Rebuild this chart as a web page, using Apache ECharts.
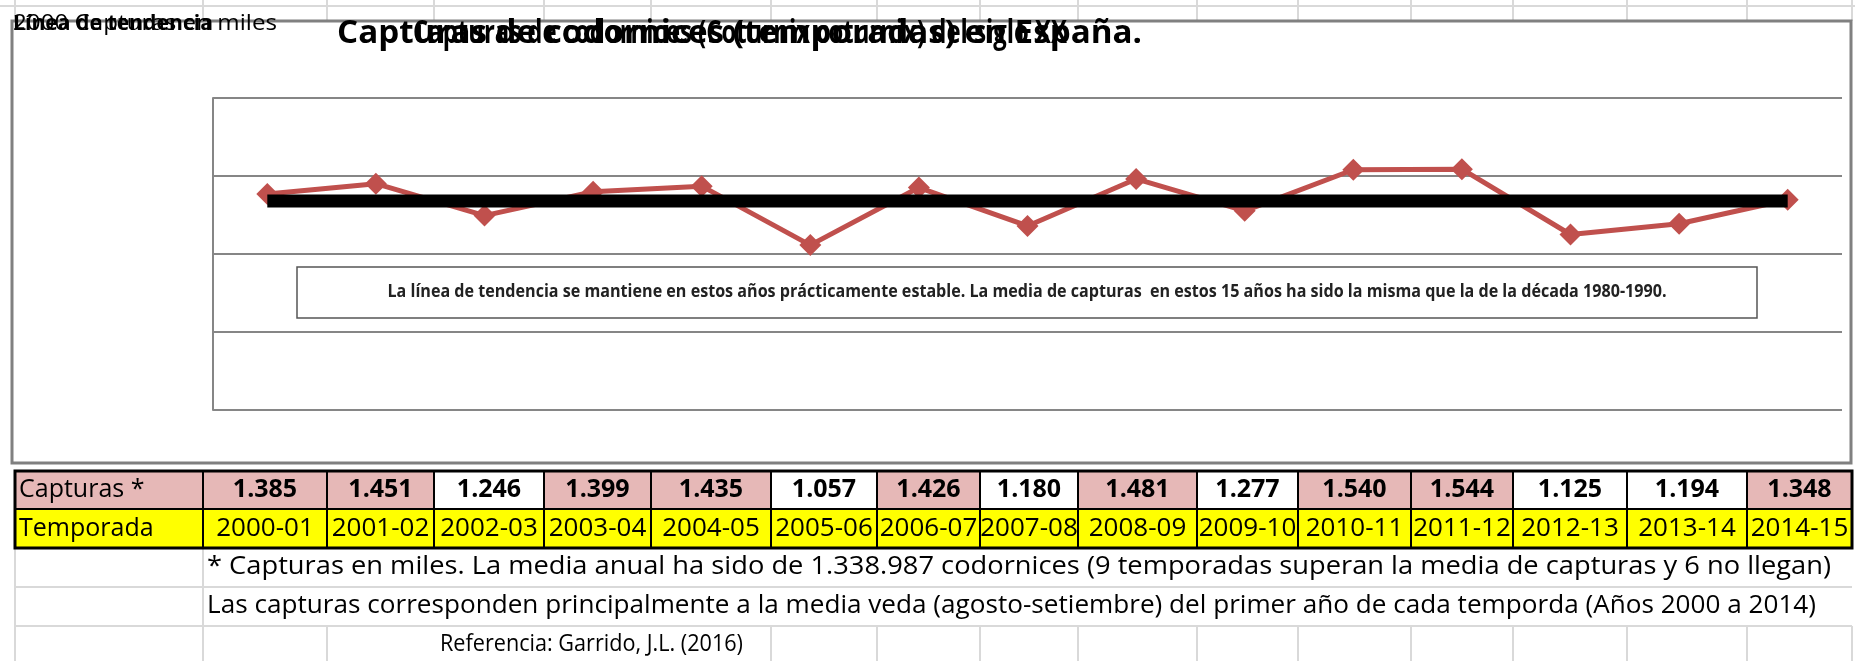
<!DOCTYPE html>
<html>
<head>
<meta charset="utf-8">
<script src="https://cdn.jsdelivr.net/npm/echarts@6/dist/echarts.min.js"></script>
<style>
html, body { margin: 0; padding: 0; background: #fff; }
#chart { width: 1855px; height: 661px; }
</style>
</head>
<body>
<div id="chart"></div>
<script>
// datos: capturas (miles) por temporada
var temporadas = ['2000-01', '2001-02', '2002-03', '2003-04', '2004-05', '2005-06', '2006-07', '2007-08',
	'2008-09', '2009-10', '2010-11', '2011-12', '2012-13', '2013-14', '2014-15'];
var capturas = [1.385, 1.451, 1.246, 1.399, 1.435, 1.057, 1.426, 1.180, 1.481, 1.277, 1.540, 1.544, 1.125, 1.194, 1.348];
var tendencia = [[0, 1.34], [14, 1.34]];
var mediaAnual = 1.338987;

var titulo = 'Capturas de codornices (temporadas) en España.';
var titulo2 = 'Capturas de codornices (Coturnix coturnix) del siglo XX';
var nota = 'La línea de tendencia se mantiene en estos años prácticamente estable. La media de capturas  en estos 15 años ha sido la misma que la de la década 1980-1990.';
var pie1 = '* Capturas en miles. La media anual ha sido de 1.338.987 codornices (9 temporadas superan la media de capturas y 6 no llegan)';
var pie2 = 'Las capturas corresponden principalmente a la media veda (agosto-setiembre) del primer año de cada temporda (Años 2000 a 2014)';
var pie3 = 'Referencia: Garrido, J.L. (2016)';

// columnas de la hoja
var cols = [15, 203, 327, 434, 544, 651, 771, 877, 980, 1078, 1197, 1298, 1411, 1513, 1627, 1747, 1852];
var fila = [471, 509, 548];

var FONT = '"Open Sans", "Noto Sans", sans-serif';
var g = [];
var ctx = document.createElement('canvas').getContext('2d');

function linea(x1, y1, x2, y2, color, w) {
	g.push({ type: 'line', shape: { x1: x1, y1: y1, x2: x2, y2: y2 }, style: { stroke: color, lineWidth: w }, z: 1 });
}
// texto; si se da ancho, se estrecha/ensancha para ocupar ese ancho (como Calibri en la hoja)
function texto(t, x, y, size, weight, align, ancho, color) {
	var font = (weight || 'normal') + ' ' + size + 'px ' + FONT;
	var sx = 1;
	if (ancho) {
		ctx.font = font;
		sx = ancho / ctx.measureText(t).width;
	}
	g.push({
		type: 'text', z: 10, x: x, y: y, scaleX: sx,
		style: {
			text: t, x: 0, y: 0, fill: color || '#000', font: font,
			textAlign: align || 'left', textVerticalAlign: 'middle', verticalAlign: 'middle'
		}
	});
}

// rejilla clara de la hoja
var gris = '#d9d9d9';
linea(0, 6, 1855, 6, gris, 2);
cols.forEach(function (x) { linea(x, 0, x, 21, gris, 2); });
linea(15, 587, 1852, 587, gris, 2);
linea(15, 626, 1852, 626, gris, 2);
linea(15, 548, 15, 661, gris, 2);
linea(203, 548, 203, 661, gris, 2);
[327, 771, 877, 980, 1078, 1197, 1298, 1411, 1513, 1627, 1747, 1852].forEach(function (x) { linea(x, 626, x, 661, gris, 2); });

// marco del grafico
g.push({ type: 'rect', shape: { x: 12, y: 21, width: 1839, height: 442 }, style: { fill: 'none', stroke: '#808080', lineWidth: 3 }, z: 2 });

// textos superpuestos (como en la hoja)
texto('2000 Capturas en miles', 13, 24, 22, 'normal', 'left', 264);
texto('Línea de tendencia', 13, 24, 22, 'bold', 'left', 200);
texto(titulo, 337, 34, 32, 'bold', 'left', 805);
texto(titulo2, 413, 34, 32, 'bold', 'left', 654);

// cuadro de nota
g.push({ type: 'rect', shape: { x: 297, y: 267, width: 1460, height: 51 }, style: { fill: '#fff', stroke: '#555', lineWidth: 1.5 }, z: 5 });
texto(nota, 1027, 292, 18, 'bold', 'center', 1279, '#222');

// tabla
for (var i = 0; i < 16; i++) {
	var x0 = cols[i], x1 = cols[i + 1];
	var rosa = i === 0 || capturas[i - 1] > mediaAnual;
	g.push({ type: 'rect', shape: { x: x0, y: fila[0], width: x1 - x0, height: fila[1] - fila[0] },
		style: { fill: rosa ? '#E6B8B7' : '#fff', stroke: '#000', lineWidth: 2 }, z: 6 });
	g.push({ type: 'rect', shape: { x: x0, y: fila[1], width: x1 - x0, height: fila[2] - fila[1] },
		style: { fill: '#FFFF00', stroke: '#000', lineWidth: 2 }, z: 6 });
	if (i === 0) {
		texto('Capturas *', x0 + 4, 490, 25, 'normal');
		texto('Temporada', x0 + 4, 529, 25, 'normal');
	} else {
		texto(capturas[i - 1].toFixed(3), (x0 + x1) / 2, 490, 25, 'bold', 'center');
		texto(temporadas[i - 1], (x0 + x1) / 2, 529, 26, 'normal', 'center');
	}
}
g.push({ type: 'rect', shape: { x: 15, y: 471, width: 1837, height: 77 }, style: { fill: 'none', stroke: '#000', lineWidth: 3 }, z: 7 });

texto(pie1, 207, 567, 26, 'normal', 'left', 1624);
texto(pie2, 207, 606, 26, 'normal', 'left', 1609);
texto(pie3, 440, 644, 23, 'normal', 'left', 303);

var chart = echarts.init(document.getElementById('chart'));
chart.setOption({
	animation: false,
	backgroundColor: '#fff',
	grid: { left: 213, right: 13, top: 98, bottom: 251 },
	xAxis: {
		type: 'category',
		data: temporadas,
		boundaryGap: true,
		axisLine: { show: false },
		axisTick: { show: false },
		axisLabel: { show: false },
		splitLine: { show: false }
	},
	yAxis: {
		type: 'value',
		min: 0,
		max: 2,
		interval: 0.5,
		axisLine: { show: true, lineStyle: { color: '#868686', width: 2 } },
		axisTick: { show: false },
		axisLabel: { show: false },
		splitLine: { lineStyle: { color: '#868686', width: 2 } }
	},
	series: [{
		name: 'Capturas',
		type: 'line',
		data: capturas,
		symbol: 'diamond',
		symbolSize: 22,
		lineStyle: { color: '#C0504D', width: 5 },
		itemStyle: { color: '#C0504D' },
		z: 3
	}, {
		name: 'Línea de tendencia',
		type: 'line',
		data: tendencia,
		symbol: 'none',
		lineStyle: { color: '#000', width: 13, cap: 'butt' },
		z: 4
	}],
	graphic: { elements: g }
});
</script>
</body>
</html>
